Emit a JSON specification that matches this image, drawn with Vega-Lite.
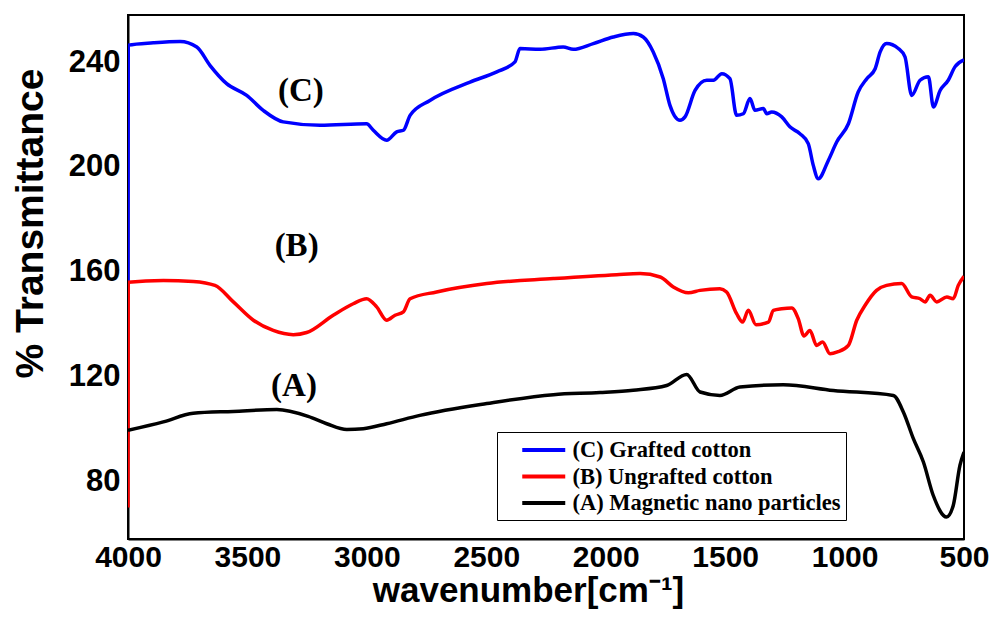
{
  "$schema": "https://vega.github.io/schema/vega-lite/v6.json",
  "width": 836,
  "height": 524,
  "autosize": "none",
  "padding": {"left": 128, "top": 15, "right": 37, "bottom": 82},
  "background": "white",
  "config": {"view": {"stroke": "black", "strokeWidth": 2}, "font": "Liberation Sans"},
  "layer": [
    {
      "data": {"values": [
        {"s": "(C) Grafted cotton", "wn": 4000, "t": 155},
        {"s": "(C) Grafted cotton", "wn": 3999, "t": 246.5},
        {"s": "(C) Grafted cotton", "wn": 3894, "t": 247.4},
        {"s": "(C) Grafted cotton", "wn": 3782, "t": 247.9},
        {"s": "(C) Grafted cotton", "wn": 3712, "t": 245.8},
        {"s": "(C) Grafted cotton", "wn": 3657, "t": 238.8},
        {"s": "(C) Grafted cotton", "wn": 3587, "t": 231.8},
        {"s": "(C) Grafted cotton", "wn": 3503, "t": 227.3},
        {"s": "(C) Grafted cotton", "wn": 3434, "t": 221.6},
        {"s": "(C) Grafted cotton", "wn": 3350, "t": 217.2},
        {"s": "(C) Grafted cotton", "wn": 3196, "t": 215.9},
        {"s": "(C) Grafted cotton", "wn": 3001, "t": 216.5},
        {"s": "(C) Grafted cotton", "wn": 2973, "t": 214.0},
        {"s": "(C) Grafted cotton", "wn": 2917, "t": 210.2},
        {"s": "(C) Grafted cotton", "wn": 2875, "t": 213.4},
        {"s": "(C) Grafted cotton", "wn": 2847, "t": 214.0},
        {"s": "(C) Grafted cotton", "wn": 2819, "t": 219.7},
        {"s": "(C) Grafted cotton", "wn": 2736, "t": 225.4},
        {"s": "(C) Grafted cotton", "wn": 2568, "t": 232.4},
        {"s": "(C) Grafted cotton", "wn": 2456, "t": 236.3},
        {"s": "(C) Grafted cotton", "wn": 2380, "t": 240.1},
        {"s": "(C) Grafted cotton", "wn": 2359, "t": 245.2},
        {"s": "(C) Grafted cotton", "wn": 2275, "t": 244.9},
        {"s": "(C) Grafted cotton", "wn": 2178, "t": 245.8},
        {"s": "(C) Grafted cotton", "wn": 2136, "t": 244.9},
        {"s": "(C) Grafted cotton", "wn": 2052, "t": 247.1},
        {"s": "(C) Grafted cotton", "wn": 1968, "t": 249.6},
        {"s": "(C) Grafted cotton", "wn": 1884, "t": 250.9},
        {"s": "(C) Grafted cotton", "wn": 1843, "t": 249.6},
        {"s": "(C) Grafted cotton", "wn": 1801, "t": 243.9},
        {"s": "(C) Grafted cotton", "wn": 1759, "t": 233.7},
        {"s": "(C) Grafted cotton", "wn": 1731, "t": 223.5},
        {"s": "(C) Grafted cotton", "wn": 1689, "t": 217.8},
        {"s": "(C) Grafted cotton", "wn": 1668, "t": 219.1},
        {"s": "(C) Grafted cotton", "wn": 1626, "t": 229.2},
        {"s": "(C) Grafted cotton", "wn": 1577, "t": 233.1},
        {"s": "(C) Grafted cotton", "wn": 1549, "t": 233.1},
        {"s": "(C) Grafted cotton", "wn": 1514, "t": 235.6},
        {"s": "(C) Grafted cotton", "wn": 1480, "t": 233.7},
        {"s": "(C) Grafted cotton", "wn": 1452, "t": 219.7},
        {"s": "(C) Grafted cotton", "wn": 1424, "t": 220.3},
        {"s": "(C) Grafted cotton", "wn": 1396, "t": 226.1},
        {"s": "(C) Grafted cotton", "wn": 1375, "t": 221.6},
        {"s": "(C) Grafted cotton", "wn": 1340, "t": 222.3},
        {"s": "(C) Grafted cotton", "wn": 1326, "t": 220.3},
        {"s": "(C) Grafted cotton", "wn": 1305, "t": 221.0},
        {"s": "(C) Grafted cotton", "wn": 1263, "t": 219.1},
        {"s": "(C) Grafted cotton", "wn": 1229, "t": 215.3},
        {"s": "(C) Grafted cotton", "wn": 1187, "t": 212.7},
        {"s": "(C) Grafted cotton", "wn": 1152, "t": 208.9},
        {"s": "(C) Grafted cotton", "wn": 1131, "t": 200.6},
        {"s": "(C) Grafted cotton", "wn": 1110, "t": 195.5},
        {"s": "(C) Grafted cotton", "wn": 1068, "t": 202.5},
        {"s": "(C) Grafted cotton", "wn": 1033, "t": 209.5},
        {"s": "(C) Grafted cotton", "wn": 984, "t": 216.5},
        {"s": "(C) Grafted cotton", "wn": 943, "t": 228.6},
        {"s": "(C) Grafted cotton", "wn": 907, "t": 233.7},
        {"s": "(C) Grafted cotton", "wn": 872, "t": 237.5},
        {"s": "(C) Grafted cotton", "wn": 851, "t": 243.9},
        {"s": "(C) Grafted cotton", "wn": 824, "t": 247.1},
        {"s": "(C) Grafted cotton", "wn": 775, "t": 245.2},
        {"s": "(C) Grafted cotton", "wn": 747, "t": 242.0},
        {"s": "(C) Grafted cotton", "wn": 719, "t": 227.3},
        {"s": "(C) Grafted cotton", "wn": 684, "t": 233.1},
        {"s": "(C) Grafted cotton", "wn": 649, "t": 234.4},
        {"s": "(C) Grafted cotton", "wn": 628, "t": 222.9},
        {"s": "(C) Grafted cotton", "wn": 600, "t": 229.2},
        {"s": "(C) Grafted cotton", "wn": 566, "t": 233.1},
        {"s": "(C) Grafted cotton", "wn": 538, "t": 238.2},
        {"s": "(C) Grafted cotton", "wn": 500, "t": 240.9},

        {"s": "(B) Ungrafted cotton", "wn": 4000, "t": 70},
        {"s": "(B) Ungrafted cotton", "wn": 3999, "t": 156},
        {"s": "(B) Ungrafted cotton", "wn": 3852, "t": 156.7},
        {"s": "(B) Ungrafted cotton", "wn": 3727, "t": 156.3},
        {"s": "(B) Ungrafted cotton", "wn": 3636, "t": 154.8},
        {"s": "(B) Ungrafted cotton", "wn": 3559, "t": 148.5},
        {"s": "(B) Ungrafted cotton", "wn": 3475, "t": 141.5},
        {"s": "(B) Ungrafted cotton", "wn": 3392, "t": 137.6},
        {"s": "(B) Ungrafted cotton", "wn": 3308, "t": 136.0},
        {"s": "(B) Ungrafted cotton", "wn": 3252, "t": 136.8},
        {"s": "(B) Ungrafted cotton", "wn": 3141, "t": 143.4},
        {"s": "(B) Ungrafted cotton", "wn": 3057, "t": 147.8},
        {"s": "(B) Ungrafted cotton", "wn": 3001, "t": 149.7},
        {"s": "(B) Ungrafted cotton", "wn": 2959, "t": 146.6},
        {"s": "(B) Ungrafted cotton", "wn": 2917, "t": 141.5},
        {"s": "(B) Ungrafted cotton", "wn": 2882, "t": 143.4},
        {"s": "(B) Ungrafted cotton", "wn": 2847, "t": 144.7},
        {"s": "(B) Ungrafted cotton", "wn": 2819, "t": 149.7},
        {"s": "(B) Ungrafted cotton", "wn": 2708, "t": 152.3},
        {"s": "(B) Ungrafted cotton", "wn": 2498, "t": 155.5},
        {"s": "(B) Ungrafted cotton", "wn": 2219, "t": 157.4},
        {"s": "(B) Ungrafted cotton", "wn": 1954, "t": 158.9},
        {"s": "(B) Ungrafted cotton", "wn": 1856, "t": 159.3},
        {"s": "(B) Ungrafted cotton", "wn": 1772, "t": 158.0},
        {"s": "(B) Ungrafted cotton", "wn": 1717, "t": 154.2},
        {"s": "(B) Ungrafted cotton", "wn": 1654, "t": 152.0},
        {"s": "(B) Ungrafted cotton", "wn": 1605, "t": 152.9},
        {"s": "(B) Ungrafted cotton", "wn": 1522, "t": 153.5},
        {"s": "(B) Ungrafted cotton", "wn": 1494, "t": 152.3},
        {"s": "(B) Ungrafted cotton", "wn": 1452, "t": 144.0},
        {"s": "(B) Ungrafted cotton", "wn": 1427, "t": 140.8},
        {"s": "(B) Ungrafted cotton", "wn": 1403, "t": 145.3},
        {"s": "(B) Ungrafted cotton", "wn": 1371, "t": 139.8},
        {"s": "(B) Ungrafted cotton", "wn": 1319, "t": 140.8},
        {"s": "(B) Ungrafted cotton", "wn": 1298, "t": 145.3},
        {"s": "(B) Ungrafted cotton", "wn": 1263, "t": 145.9},
        {"s": "(B) Ungrafted cotton", "wn": 1221, "t": 146.2},
        {"s": "(B) Ungrafted cotton", "wn": 1194, "t": 142.1},
        {"s": "(B) Ungrafted cotton", "wn": 1170, "t": 135.5},
        {"s": "(B) Ungrafted cotton", "wn": 1145, "t": 137.6},
        {"s": "(B) Ungrafted cotton", "wn": 1117, "t": 131.9},
        {"s": "(B) Ungrafted cotton", "wn": 1092, "t": 133.2},
        {"s": "(B) Ungrafted cotton", "wn": 1061, "t": 128.7},
        {"s": "(B) Ungrafted cotton", "wn": 1030, "t": 129.4},
        {"s": "(B) Ungrafted cotton", "wn": 984, "t": 131.9},
        {"s": "(B) Ungrafted cotton", "wn": 949, "t": 141.5},
        {"s": "(B) Ungrafted cotton", "wn": 914, "t": 147.2},
        {"s": "(B) Ungrafted cotton", "wn": 866, "t": 152.9},
        {"s": "(B) Ungrafted cotton", "wn": 824, "t": 154.8},
        {"s": "(B) Ungrafted cotton", "wn": 761, "t": 155.5},
        {"s": "(B) Ungrafted cotton", "wn": 719, "t": 150.4},
        {"s": "(B) Ungrafted cotton", "wn": 684, "t": 149.7},
        {"s": "(B) Ungrafted cotton", "wn": 663, "t": 148.5},
        {"s": "(B) Ungrafted cotton", "wn": 642, "t": 151.0},
        {"s": "(B) Ungrafted cotton", "wn": 614, "t": 148.5},
        {"s": "(B) Ungrafted cotton", "wn": 572, "t": 150.4},
        {"s": "(B) Ungrafted cotton", "wn": 545, "t": 149.7},
        {"s": "(B) Ungrafted cotton", "wn": 524, "t": 154.8},
        {"s": "(B) Ungrafted cotton", "wn": 500, "t": 158.3},

        {"s": "(A) Magnetic nano particles", "wn": 4000, "t": 99.5},
        {"s": "(A) Magnetic nano particles", "wn": 3852, "t": 102.7},
        {"s": "(A) Magnetic nano particles", "wn": 3727, "t": 106.0},
        {"s": "(A) Magnetic nano particles", "wn": 3559, "t": 106.7},
        {"s": "(A) Magnetic nano particles", "wn": 3377, "t": 107.4},
        {"s": "(A) Magnetic nano particles", "wn": 3246, "t": 104.8},
        {"s": "(A) Magnetic nano particles", "wn": 3168, "t": 102.0},
        {"s": "(A) Magnetic nano particles", "wn": 3084, "t": 99.8},
        {"s": "(A) Magnetic nano particles", "wn": 3015, "t": 100.1},
        {"s": "(A) Magnetic nano particles", "wn": 2917, "t": 102.0},
        {"s": "(A) Magnetic nano particles", "wn": 2778, "t": 105.2},
        {"s": "(A) Magnetic nano particles", "wn": 2498, "t": 109.7},
        {"s": "(A) Magnetic nano particles", "wn": 2219, "t": 113.1},
        {"s": "(A) Magnetic nano particles", "wn": 2024, "t": 113.9},
        {"s": "(A) Magnetic nano particles", "wn": 1885, "t": 114.8},
        {"s": "(A) Magnetic nano particles", "wn": 1745, "t": 116.6},
        {"s": "(A) Magnetic nano particles", "wn": 1661, "t": 120.8},
        {"s": "(A) Magnetic nano particles", "wn": 1605, "t": 114.1},
        {"s": "(A) Magnetic nano particles", "wn": 1522, "t": 112.8},
        {"s": "(A) Magnetic nano particles", "wn": 1438, "t": 116.0},
        {"s": "(A) Magnetic nano particles", "wn": 1257, "t": 116.9},
        {"s": "(A) Magnetic nano particles", "wn": 1047, "t": 114.7},
        {"s": "(A) Magnetic nano particles", "wn": 796, "t": 112.8},
        {"s": "(A) Magnetic nano particles", "wn": 754, "t": 106.5},
        {"s": "(A) Magnetic nano particles", "wn": 712, "t": 96.3},
        {"s": "(A) Magnetic nano particles", "wn": 670, "t": 87.4},
        {"s": "(A) Magnetic nano particles", "wn": 629, "t": 74.7},
        {"s": "(A) Magnetic nano particles", "wn": 573, "t": 66.4},
        {"s": "(A) Magnetic nano particles", "wn": 545, "t": 70.8},
        {"s": "(A) Magnetic nano particles", "wn": 517, "t": 86.1},
        {"s": "(A) Magnetic nano particles", "wn": 500, "t": 91.2}
      ]},
      "mark": {"type": "line", "strokeWidth": 3.5, "clip": true, "interpolate": "monotone"},
      "encoding": {
        "x": {
          "field": "wn", "type": "quantitative",
          "scale": {"domain": [500, 4000], "reverse": true, "nice": false, "zero": false},
          "axis": {
            "values": [500, 1000, 1500, 2000, 2500, 3000, 3500, 4000],
            "format": "d",
            "title": "wavenumber[cm⁻¹]",
            "grid": false, "ticks": false,
            "domainColor": "black", "domainWidth": 2,
            "labelFont": "Liberation Sans", "labelFontWeight": "bold", "labelFontSize": 30, "labelColor": "black",
            "labelPadding": 3, "labelDx": 6, "labelFlush": false, "labelOverlap": false,
            "titleFont": "Liberation Sans", "titleFontSize": 35, "titleFontWeight": "bold", "titleColor": "black",
            "titleX": 400, "titleY": 62, "titleBaseline": "alphabetic", "titleAlign": "center"
          }
        },
        "y": {
          "field": "t", "type": "quantitative",
          "scale": {"domain": [58, 258], "nice": false, "zero": false},
          "axis": {
            "values": [80, 120, 160, 200, 240],
            "format": "d",
            "title": "% Transmittance",
            "grid": false, "ticks": false,
            "domainColor": "black", "domainWidth": 2,
            "labelFont": "Liberation Sans", "labelFontWeight": "bold", "labelFontSize": 31, "labelColor": "black",
            "labelPadding": 8,
            "titleFont": "Liberation Sans", "titleFontSize": 39, "titleFontWeight": "bold", "titleColor": "black",
            "titleAngle": -90, "titleX": -98, "titleY": 208, "titleBaseline": "middle", "titleAlign": "center"
          }
        },
        "color": {
          "field": "s", "type": "nominal",
          "scale": {
            "domain": ["(C) Grafted cotton", "(B) Ungrafted cotton", "(A) Magnetic nano particles"],
            "range": ["#0000ff", "#ff0000", "#000000"]
          },
          "legend": {
            "orient": "none", "legendX": 369, "legendY": 417,
            "title": null,
            "symbolType": "M-2,0H2", "symbolSize": 462, "symbolStrokeWidth": 4,
            "symbolFillColor": "transparent",
            "symbolOffset": 28.75,
            "labelFont": "Liberation Serif", "labelFontWeight": "bold", "labelFontSize": 22.5, "labelColor": "black",
            "labelOffset": 15.75, "labelLimit": 0,
            "padding": 5, "rowPadding": 1.5,
            "strokeColor": "black", "fillColor": "white"
          }
        }
      }
    },
    {
      "data": {"values": [
        {"label": "(C)", "wn": 3276, "t": 228.9},
        {"label": "(B)", "wn": 3294, "t": 170.0},
        {"label": "(A)", "wn": 3305, "t": 116.3}
      ]},
      "mark": {"type": "text", "font": "Liberation Serif", "fontWeight": "bold", "fontSize": 33, "color": "black", "baseline": "middle", "align": "center"},
      "encoding": {
        "x": {"field": "wn", "type": "quantitative"},
        "y": {"field": "t", "type": "quantitative"},
        "text": {"field": "label"}
      }
    }
  ]
}
